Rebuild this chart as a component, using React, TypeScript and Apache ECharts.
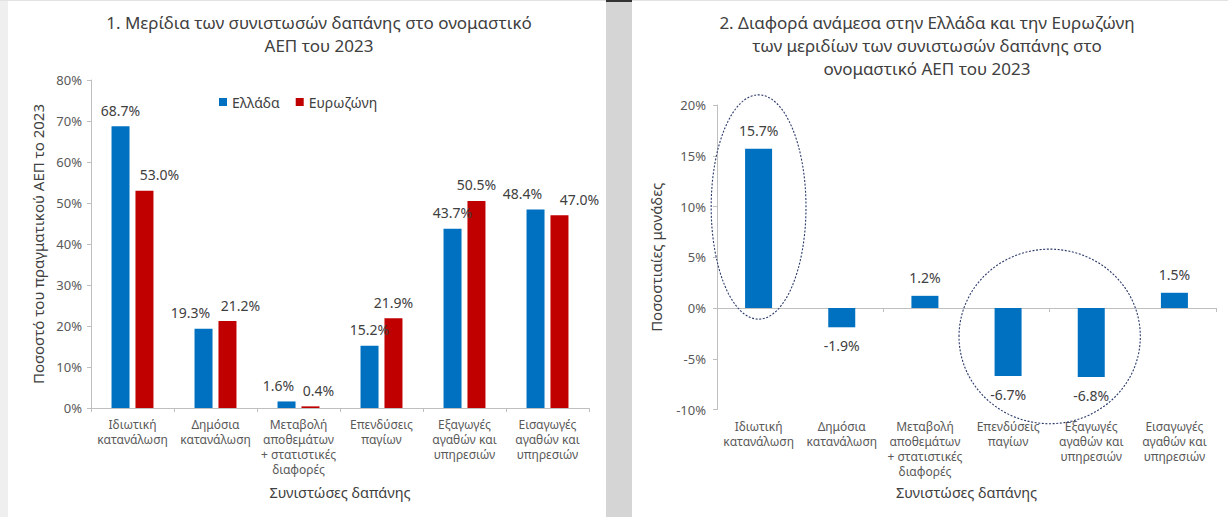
import React, { useEffect, useRef } from "react";
import * as echarts from "echarts";

// ---------- data ----------
const categories = [
  "Ιδιωτική\nκατανάλωση",
  "Δημόσια\nκατανάλωση",
  "Μεταβολή\nαποθεμάτων\n+ στατιστικές\nδιαφορές",
  "Επενδύσεις\nπαγίων",
  "Εξαγωγές\nαγαθών και\nυπηρεσιών",
  "Εισαγωγές\nαγαθών και\nυπηρεσιών",
];
const seriesNames = ["Ελλάδα", "Ευρωζώνη"];
const greece = [68.7, 19.3, 1.6, 15.2, 43.7, 48.4];
const eurozone = [53.0, 21.2, 0.4, 21.9, 50.5, 47.0];
const difference = [15.7, -1.9, 1.2, -6.7, -6.8, 1.5];

const leftAxis = { min: 0, max: 80, step: 10 };
const rightAxis = { min: -10, max: 20, step: 5 };

const title1 = "1. Μερίδια των συνιστωσών δαπάνης στο ονομαστικό\nΑΕΠ του 2023";
const title2 =
  "2. Διαφορά ανάμεσα στην Ελλάδα και την Ευρωζώνη\nτων μεριδίων των συνιστωσών δαπάνης στο\nονομαστικό ΑΕΠ του 2023";
const xName = "Συνιστώσες δαπάνης";
const yName1 = "Ποσοστό του πραγματικού ΑΕΠ το 2023";
const yName2 = "Ποσοστιαίες μονάδες";

// label nudges (px, horizontal) as placed in the original
const greeceLabelShift = [0, -13, -8, 0, 0, -13];
const eurozoneLabelShift = [15, 13, 8, 0, 0, 20];

// dotted rings in the second chart: categories circled and value extent
const ringGroups = [[0], [3, 4]];
const ringTop = [21.0, 5.8];
const ringBottom = [-1.1, -11.4];
const ringPad = [0.57, 0.59];

// ---------- styles ----------
const FONT = "'Noto Sans', 'DejaVu Sans', sans-serif";
const BLUE = "#0070C0";
const RED = "#C00000";
const TEXT = "#404040";
const TICK = "#595959";
const AXIS = "#bfbfbf";

const pct = (v: number) => `${v.toFixed(1)}%`;

export default function App() {
  const ref = useRef<HTMLDivElement>(null);

  useEffect(() => {
    if (!ref.current) return;
    const chart = echarts.init(ref.current, undefined, { renderer: "svg" });

    const catLabel = {
      interval: 0,
      fontSize: 12,
      lineHeight: 15,
      color: TICK,
      margin: 9,
      fontFamily: FONT,
    };
    const nameStyle = { fontSize: 14.5, color: TEXT, fontFamily: FONT };

    const option: any = {
      animation: false,
      backgroundColor: "transparent",
      textStyle: { fontFamily: FONT },
      title: [
        {
          text: title1,
          left: 319,
          top: 11,
          textAlign: "center",
          padding: 0,
          textStyle: { fontSize: 17, fontWeight: "normal", color: TEXT, lineHeight: 23, fontFamily: FONT },
        },
        {
          text: title2,
          left: 927,
          top: 11,
          textAlign: "center",
          padding: 0,
          textStyle: { fontSize: 17, fontWeight: "normal", color: TEXT, lineHeight: 23, fontFamily: FONT },
        },
      ],
      legend: {
        data: seriesNames,
        left: 219,
        top: 95,
        padding: 0,
        icon: "rect",
        itemWidth: 8,
        itemHeight: 8,
        itemGap: 16,
        textStyle: { fontSize: 14, color: TEXT, fontFamily: FONT },
      },
      grid: [
        { left: 91, top: 80, width: 498, height: 328 },
        { left: 717, top: 105, width: 499, height: 304.5 },
      ],
      xAxis: [
        {
          type: "category",
          gridIndex: 0,
          data: categories,
          axisLine: { lineStyle: { color: AXIS } },
          axisTick: { show: true, length: 4, lineStyle: { color: AXIS } },
          axisLabel: catLabel,
          name: xName,
          nameLocation: "middle",
          nameGap: 76,
          nameTextStyle: nameStyle,
        },
        {
          type: "category",
          gridIndex: 1,
          data: categories,
          position: "bottom",
          axisLine: { onZero: true, lineStyle: { color: AXIS } },
          axisTick: { show: true, length: 4, lineStyle: { color: AXIS } },
          axisLabel: { show: false },
        },
        {
          type: "category",
          gridIndex: 1,
          data: categories,
          position: "bottom",
          axisLine: { show: false, onZero: false },
          axisTick: { show: false },
          axisLabel: catLabel,
          name: xName,
          nameLocation: "middle",
          nameGap: 75,
          nameTextStyle: nameStyle,
        },
      ],
      yAxis: [
        {
          type: "value",
          gridIndex: 0,
          min: leftAxis.min,
          max: leftAxis.max,
          interval: leftAxis.step,
          axisLine: { show: true, lineStyle: { color: AXIS } },
          axisTick: { show: true, length: 4, lineStyle: { color: AXIS } },
          splitLine: { show: false },
          axisLabel: { formatter: "{value}%", fontSize: 13, color: TICK, margin: 9, fontFamily: FONT },
          name: yName1,
          nameLocation: "middle",
          nameRotate: 90,
          nameGap: 46,
          nameTextStyle: { fontSize: 15, color: TEXT, fontFamily: FONT },
        },
        {
          type: "value",
          gridIndex: 1,
          min: rightAxis.min,
          max: rightAxis.max,
          interval: rightAxis.step,
          axisLine: { show: true, lineStyle: { color: AXIS } },
          axisTick: { show: true, length: 4, lineStyle: { color: AXIS } },
          splitLine: { show: false },
          axisLabel: { formatter: "{value}%", fontSize: 13, color: TICK, margin: 11, fontFamily: FONT },
          name: yName2,
          nameLocation: "middle",
          nameRotate: 90,
          nameGap: 54,
          nameTextStyle: { fontSize: 15, color: TEXT, fontFamily: FONT },
        },
      ],
      series: [
        {
          name: seriesNames[0],
          type: "bar",
          xAxisIndex: 0,
          yAxisIndex: 0,
          barWidth: 18,
          barGap: "33%",
          itemStyle: { color: BLUE },
          label: {
            show: true,
            position: "top",
            distance: 9,
            fontSize: 14,
            color: TEXT,
            fontFamily: FONT,
            formatter: (p: any) => pct(p.value),
          },
          data: greece.map((v, i) => ({ value: v, label: { offset: [greeceLabelShift[i], 0] } })),
        },
        {
          name: seriesNames[1],
          type: "bar",
          xAxisIndex: 0,
          yAxisIndex: 0,
          barWidth: 18,
          barGap: "33%",
          itemStyle: { color: RED },
          label: {
            show: true,
            position: "top",
            distance: 9,
            fontSize: 14,
            color: TEXT,
            fontFamily: FONT,
            formatter: (p: any) => pct(p.value),
          },
          data: eurozone.map((v, i) => ({ value: v, label: { offset: [eurozoneLabelShift[i], 0] } })),
        },
        {
          name: "Διαφορά",
          type: "bar",
          xAxisIndex: 1,
          yAxisIndex: 1,
          barWidth: 27,
          itemStyle: { color: BLUE },
          label: {
            show: true,
            distance: 11,
            fontSize: 14,
            color: TEXT,
            fontFamily: FONT,
            formatter: (p: any) => pct(p.value),
          },
          data: difference.map((v) => ({ value: v, label: { position: v >= 0 ? "top" : "bottom" } })),
        },
      ],
    };

    chart.setOption(option);

    // dotted rings, positioned through the chart's own scales
    const finder = { xAxisIndex: 1, yAxisIndex: 1 };
    const p0 = chart.convertToPixel(finder, [0, 0]) as number[];
    const p1 = chart.convertToPixel(finder, [1, 0]) as number[];
    const catW = p1[0] - p0[0];
    const rings = ringGroups.map((group, k) => {
      const xs = group.map((c) => (chart.convertToPixel(finder, [c, 0]) as number[])[0]);
      const minX = Math.min(...xs);
      const maxX = Math.max(...xs);
      const yT = (chart.convertToPixel(finder, [group[0], ringTop[k]]) as number[])[1];
      const yB = (chart.convertToPixel(finder, [group[0], ringBottom[k]]) as number[])[1];
      return {
        type: "ellipse",
        silent: true,
        z: 10,
        shape: {
          cx: (minX + maxX) / 2,
          cy: (yT + yB) / 2,
          rx: (maxX - minX) / 2 + ringPad[k] * catW,
          ry: Math.abs(yB - yT) / 2,
        },
        style: { fill: "none", stroke: "#2B3A6B", lineWidth: 1.1, lineDash: [2, 1.6] },
      };
    });
    chart.setOption({ graphic: rings });

    return () => chart.dispose();
  }, []);

  return (
    <div
      style={{
        position: "absolute",
        left: 0,
        top: 0,
        width: 1228,
        height: 517,
        background: "#ffffff",
        overflow: "hidden",
      }}
    >
      <div style={{ position: "absolute", left: 0, top: 0, width: 8, height: 517, background: "#efefef" }} />
      <div style={{ position: "absolute", left: 606, top: 0, width: 26, height: 517, background: "#d5d5d5" }} />
      <div style={{ position: "absolute", left: 0, top: 0, width: 1228, height: 1, background: "#e2e2e2" }} />
      <div style={{ position: "absolute", left: 606, top: 0, width: 26, height: 2, background: "#333333" }} />
      <div ref={ref} style={{ position: "absolute", left: 0, top: 0, width: 1228, height: 517 }} />
    </div>
  );
}
